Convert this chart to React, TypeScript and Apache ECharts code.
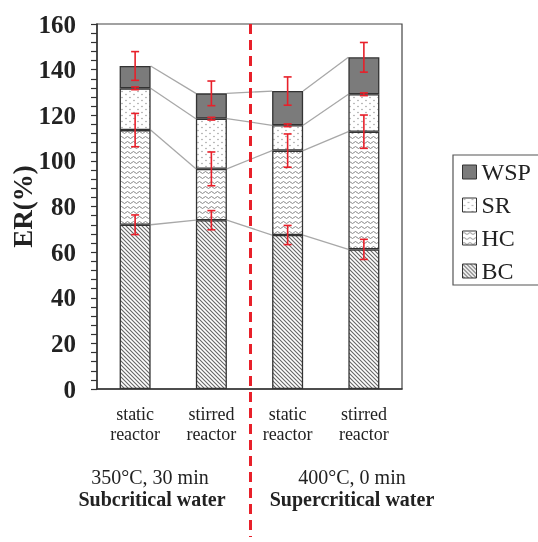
import React, { useEffect, useRef } from 'react';
import * as echarts from 'echarts';

const categories = ['static\nreactor', 'stirred\nreactor', 'static\nreactor', 'stirred\nreactor'];
const legendOrder = ['WSP', 'SR', 'HC', 'BC'];
const bcValues = [72, 74, 67.5, 61.2];
const hcValues = [41.5, 22.5, 37, 51.6];
const srValues = [18.3, 22, 11.1, 16.4];
const wspValues = [9.8, 11.1, 15, 16.2];
const bcErrors = [4.3, 4.2, 4.2, 4.4];
const hcErrors = [7.3, 7.4, 7.3, 7.3];
const srErrors = [0.6, 0.6, 0.6, 0.6];
const wspErrors = [6.3, 5.4, 6.2, 6.5];
const yMin = 0;
const yMax = 160;
const yInterval = 20;
const groupConditions = ['350°C, 30 min', '400°C, 0 min'];
const groupTitles = ['Subcritical water', 'Supercritical water'];

const FONT = "'Liberation Serif', 'Times New Roman', serif";
const RED = '#e8202a';
const BAR_W = 31;

function svgPattern(w: number, h: number, inner: string) {
  const svg = `<svg xmlns="http://www.w3.org/2000/svg" width="${w}" height="${h}"><rect width="${w}" height="${h}" fill="#ffffff"/>${inner}</svg>`;
  return {
    image: 'data:image/svg+xml;charset=utf-8,' + encodeURIComponent(svg),
    repeat: 'repeat',
    imageWidth: w,
    imageHeight: h,
  } as any;
}

const bcPattern = svgPattern(4, 4, '<path d="M0,0 L4,4 M-1,3 L1,5 M3,-1 L5,1" stroke="#666" stroke-width="1.1"/>');
const hcPattern = svgPattern(6, 5, '<path d="M0,2.5 Q1.5,0.5 3,2.5 T6,2.5" fill="none" stroke="#7a7a7a" stroke-width="0.9"/>');
const srPattern = svgPattern(8, 6, '<circle cx="2" cy="1.5" r="0.65" fill="#888"/><circle cx="6" cy="4.5" r="0.65" fill="#888"/>');
const wspColor = '#7b7b7b';

export default function App() {
  const ref = useRef<HTMLDivElement>(null);
  useEffect(() => {
    if (!ref.current) return;
    const chart = echarts.init(ref.current, null, { renderer: 'svg' });

    const segs = [bcValues, hcValues, srValues, wspValues];
    const errs = [bcErrors, hcErrors, srErrors, wspErrors];
    const tops: number[][] = [];
    let acc = categories.map(() => 0);
    segs.forEach((s) => {
      acc = acc.map((a, i) => a + s[i]);
      tops.push(acc.slice());
    });

    const errData: number[][] = [];
    tops.forEach((t, k) => t.forEach((v, i) => errData.push([i, v, errs[k][i]])));
    const connData: number[][] = [];
    tops.forEach((t) => {
      for (let i = 0; i < t.length - 1; i++) connData.push([i, t[i], t[i + 1]]);
    });

    const barStyle = (color: any) => ({ color, borderColor: '#333', borderWidth: 1.3 });

    const option: any = {
      animation: false,
      grid: {
        left: 97, top: 24, width: 305, height: 365,
        containLabel: false, outerBoundsMode: 'none',
        show: true, borderColor: '#444', borderWidth: 1.2, backgroundColor: 'transparent',
      },
      legend: {
        data: legendOrder,
        orient: 'vertical',
        left: 453,
        top: 155,
        itemWidth: 14,
        itemHeight: 14,
        itemGap: 9,
        padding: [5, 12, 2, 9],
        borderColor: '#555',
        borderWidth: 1.2,
        icon: 'rect',
        textStyle: { fontFamily: FONT, fontSize: 24, color: '#222' },
        itemStyle: { borderColor: '#333', borderWidth: 1 },
      },
      xAxis: {
        type: 'category',
        data: categories,
        axisTick: { show: false },
        axisLine: { lineStyle: { color: '#333', width: 1.5 } },
        axisLabel: { fontFamily: FONT, fontSize: 18, lineHeight: 20, margin: 15, color: '#222' },
      },
      yAxis: {
        type: 'value',
        min: yMin,
        max: yMax,
        interval: yInterval,
        name: 'ER(%)',
        nameLocation: 'middle',
        nameGap: 61,
        nameMoveOverlap: false,
        nameTextStyle: { fontFamily: FONT, fontSize: 27, fontWeight: 'bold', color: '#222' },
        axisLine: { show: true, lineStyle: { color: '#333', width: 1.5 } },
        axisTick: { show: true, length: 6, lineStyle: { color: '#333', width: 1.2 } },
        minorTick: { show: true, splitNumber: 5, length: 6, lineStyle: { color: '#333', width: 1.2 } },
        splitLine: { show: false },
        axisLabel: { fontFamily: FONT, fontSize: 25, fontWeight: 'bold', color: '#222', margin: 21 },
      },
      series: [
        { name: 'BC', type: 'bar', stack: 'total', barWidth: BAR_W, data: bcValues, itemStyle: barStyle(bcPattern) },
        { name: 'HC', type: 'bar', stack: 'total', barWidth: BAR_W, data: hcValues, itemStyle: barStyle(hcPattern) },
        { name: 'SR', type: 'bar', stack: 'total', barWidth: BAR_W, data: srValues, itemStyle: barStyle(srPattern) },
        { name: 'WSP', type: 'bar', stack: 'total', barWidth: BAR_W, data: wspValues, itemStyle: barStyle(wspColor) },
        {
          type: 'custom',
          z: 1,
          silent: true,
          data: connData,
          renderItem: (_p: any, api: any) => {
            const a = api.coord([api.value(0), api.value(1)]);
            const b = api.coord([api.value(0) + 1, api.value(2)]);
            return {
              type: 'line',
              shape: { x1: a[0] + BAR_W / 2, y1: a[1], x2: b[0] - BAR_W / 2, y2: b[1] },
              style: { stroke: '#a8a8a8', lineWidth: 1.3 },
            };
          },
        },
        {
          type: 'custom',
          z: 10,
          silent: true,
          data: errData,
          renderItem: (_p: any, api: any) => {
            const x = api.value(0);
            const c = api.value(1);
            const e = api.value(2);
            const t = api.coord([x, c + e]);
            const b = api.coord([x, c - e]);
            const hw = 4;
            const st = { stroke: RED, lineWidth: 1.6 };
            return {
              type: 'group',
              children: [
                { type: 'line', shape: { x1: t[0], y1: t[1], x2: b[0], y2: b[1] }, style: st },
                { type: 'line', shape: { x1: t[0] - hw, y1: t[1], x2: t[0] + hw, y2: t[1] }, style: st },
                { type: 'line', shape: { x1: b[0] - hw, y1: b[1], x2: b[0] + hw, y2: b[1] }, style: st },
              ],
            };
          },
        },
      ],
    };
    chart.setOption(option);

    const p1 = chart.convertToPixel({ gridIndex: 0 }, [1, yMax]) as number[];
    const p2 = chart.convertToPixel({ gridIndex: 0 }, [2, yMax]) as number[];
    const midX = (p1[0] + p2[0]) / 2 + 1;
    chart.setOption({
      graphic: [
        {
          type: 'line',
          z: 20,
          shape: { x1: midX, y1: p1[1], x2: midX, y2: 537 },
          style: { stroke: RED, lineWidth: 3, lineDash: [10, 6] },
        },
        { type: 'text', x: 150, y: 477, style: { text: groupConditions[0], font: `20px ${FONT}`, fill: '#222', textAlign: 'center', textVerticalAlign: 'middle' } },
        { type: 'text', x: 152, y: 499, style: { text: groupTitles[0], font: `bold 20px ${FONT}`, fill: '#222', textAlign: 'center', textVerticalAlign: 'middle' } },
        { type: 'text', x: 352, y: 477, style: { text: groupConditions[1], font: `20px ${FONT}`, fill: '#222', textAlign: 'center', textVerticalAlign: 'middle' } },
        { type: 'text', x: 352, y: 499, style: { text: groupTitles[1], font: `bold 20px ${FONT}`, fill: '#222', textAlign: 'center', textVerticalAlign: 'middle' } },
      ],
    });

    return () => chart.dispose();
  }, []);
  return <div ref={ref} style={{ position: 'fixed', left: 0, top: 0, width: 538, height: 542 }} />;
}
